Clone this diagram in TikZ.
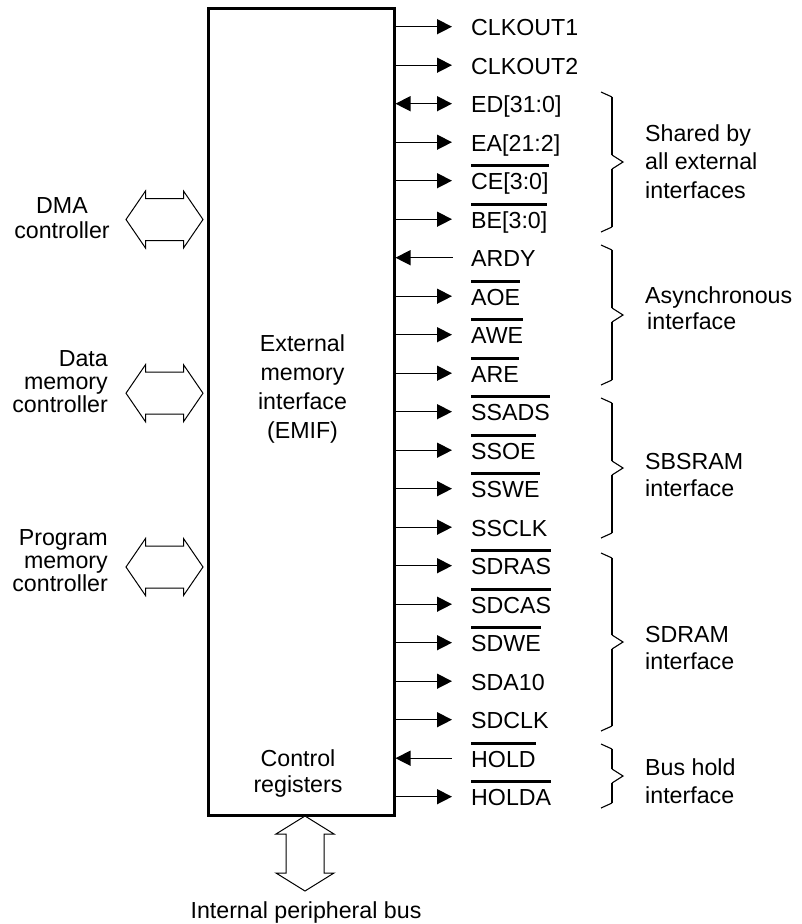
\documentclass[tikz,border=0pt]{standalone}
\usepackage{fontspec}
\setmainfont{Liberation Sans}
\usetikzlibrary{arrows.meta,calc}

% Group brace on the right of a signal group: #1 top y, #2 bottom y
\newcommand\grpbrace[2]{%
  \pgfmathsetmacro\bm{(#1+#2)/2}%
  \draw[bracethin] (601,#1) -- (612,#1+5);
  \draw[bracethick] (612,#1+5) -- (612,\bm-7);
  \draw[bracethin] (612,\bm-7) -- (623,\bm) -- (612,\bm+7);
  \draw[bracethick] (612,\bm+7) -- (612,#2-5);
  \draw[bracethin] (612,#2-5) -- (601,#2);
}

\begin{document}
\begin{tikzpicture}[x=1pt,y=-1pt,
  every node/.style={inner sep=0pt, font=\fontsize{23.2pt}{27pt}\selectfont},
  emifbox/.style={draw, line width=3pt, minimum width=186pt, minimum height=807pt},
  sigline/.style={line width=1.4pt},
  sigtip/.tip={Triangle[length=15pt 0,width=15pt 0]},
  sigout/.style={sigline, -sigtip},
  sigin/.style={sigline, sigtip-},
  sigbi/.style={sigline, sigtip-sigtip},
  siglabel/.style={anchor=base west},
  ovbar/.style={line width=3pt},
  busline/.style={line width=1pt, fill=white},
  bracethin/.style={line width=1.1pt},
  bracethick/.style={line width=2.7pt},
  grouplabel/.style={anchor=west, align=left},
  hbus/.pic={\draw[busline] (-38.5,0) -- (-19,-28.5) -- (-19,-21) -- (19,-21) -- (19,-28.5)
      -- (38.5,0) -- (19,28.5) -- (19,21) -- (-19,21) -- (-19,28.5) -- cycle;},
  vbus/.pic={\draw[busline] (0,-37.5) -- (-29,-19.5) -- (-19,-19.5) -- (-19,19.5) -- (-29,19.5)
      -- (0,37.5) -- (29,19.5) -- (19,19.5) -- (19,-19.5) -- (29,-19.5) -- cycle;},
]
\useasboundingbox (0,0) rectangle (802,924);

% EMIF block
\node[emifbox] (emif) at (301,411.5) {};
\node[align=center, font=\fontsize{23.2pt}{28.8pt}\selectfont] (emiftxt) at (302.5,389)
  {External\\memory\\interface\\(EMIF)};
\node[align=center, font=\fontsize{23.2pt}{26.3pt}\selectfont] (ctrl) at (298,773.3)
  {Control\\registers};

% external signals
\foreach \i/\txt/\ob/\kind/\xe in {
  0/CLKOUT1/0/sigout/452, 1/CLKOUT2/0/sigout/452, 2/{ED[31:0]}/0/sigbi/452,
  3/{EA[21:2]}/0/sigout/452, 4/{CE[3:0]}/1/sigout/452, 5/{BE[3:0]}/1/sigout/452,
  6/ARDY/0/sigin/453, 7/AOE/1/sigout/452, 8/AWE/1/sigout/452, 9/ARE/1/sigout/452,
  10/SSADS/1/sigout/452, 11/SSOE/1/sigout/452, 12/SSWE/1/sigout/452, 13/SSCLK/0/sigout/452,
  14/SDRAS/1/sigout/452, 15/SDCAS/1/sigout/452, 16/SDWE/1/sigout/452, 17/SDA10/0/sigout/452,
  18/SDCLK/0/sigout/452, 19/HOLD/1/sigin/452, 20/HOLDA/1/sigout/452}
{
  \pgfmathsetmacro\yy{26.7+38.5*\i}
  \coordinate (e\i) at (\xe,\yy);
  \node[siglabel] (s\i) at (471,\yy+9) {\txt};
  \draw[\kind] (emif.east |- e\i) -- (e\i);
  \ifnum\ob=1
    \draw[ovbar] ($(s\i.base west)+(0,-24)$) -- ($(s\i.base east)+(0,-24)$);
  \fi
}

% group braces and labels
\grpbrace{92}{232}
\grpbrace{245}{385}
\grpbrace{398}{538}
\grpbrace{553}{731}
\grpbrace{744}{808}
\node[grouplabel, font=\fontsize{23.2pt}{28.3pt}\selectfont] (gshared) at (645,161.7)
  {Shared by\\all external\\interfaces};
\node[grouplabel, font=\fontsize{23.2pt}{25.7pt}\selectfont] (gasync) at (645,307.9)
  {Asynchronous\\\hspace*{2pt}interface};
\node[grouplabel, font=\fontsize{23.2pt}{26.7pt}\selectfont] (gsbsram) at (645,475)
  {SBSRAM\\interface};
\node[grouplabel, font=\fontsize{23.2pt}{27.7pt}\selectfont] (gsdram) at (645,647.9)
  {SDRAM\\interface};
\node[grouplabel, font=\fontsize{23.2pt}{28.3pt}\selectfont] (ghold) at (645,780.9)
  {Bus hold\\interface};

% internal buses
\node[align=center, font=\fontsize{23.2pt}{24.5pt}\selectfont] (dma) at (62,218)
  {DMA\\controller};
\node[anchor=east, align=right, font=\fontsize{23.2pt}{23pt}\selectfont] (dmem) at (108,382)
  {Data\\memory\\controller};
\node[anchor=east, align=right, font=\fontsize{23.2pt}{23pt}\selectfont] (pmem) at (108,561)
  {Program\\memory\\controller};
\pic at (164.5,219.5) {hbus};
\pic at (164.5,393.2) {hbus};
\pic at (164.5,567) {hbus};
\pic at (305,853.5) {vbus};
\node[anchor=base] (ipb) at (306,918) {Internal peripheral bus};
\end{tikzpicture}
\end{document}
